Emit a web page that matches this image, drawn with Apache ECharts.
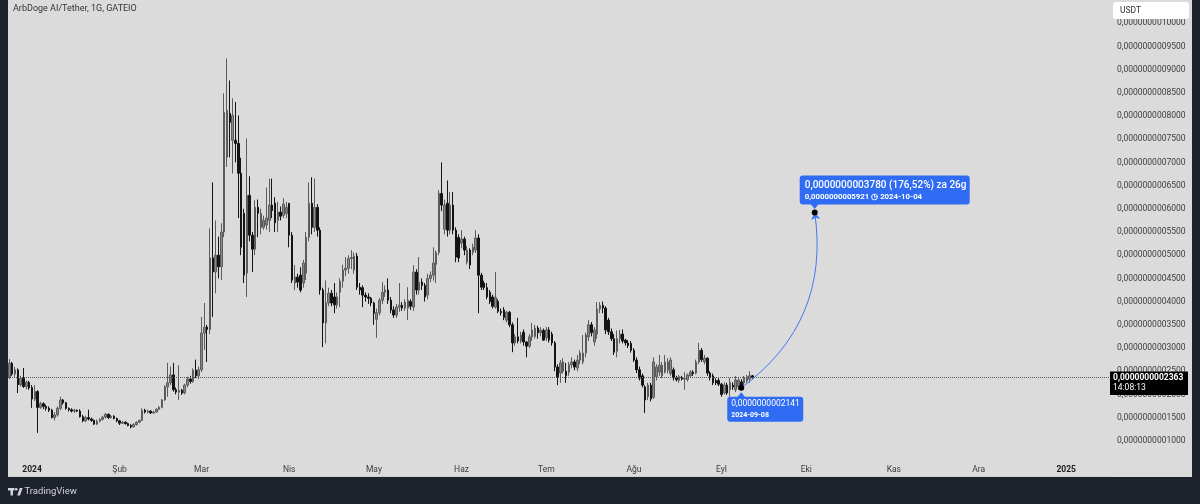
<!DOCTYPE html>
<html>
<head>
<meta charset="utf-8">
<script src="https://cdn.jsdelivr.net/npm/echarts/dist/echarts.min.js"></script>
<style>
html,body{margin:0;padding:0;background:#1e222d;}
#chart{width:1200px;height:504px;}
</style>
</head>
<body>
<div id="chart"></div>
<script>
// ---- axis / calendar ----
const startDate = '2023-12-24';
const dayCount = 390;
const monthNames = ['Oca','Şub','Mar','Nis','May','Haz','Tem','Ağu','Eyl','Eki','Kas','Ara'];
const yTickMin = 500, yTickMax = 10500, yTickStep = 500;   // price units of 1e-13 USDT

// ---- daily candles [open, close, low, high] in units of 1e-13 USDT ----
const ohlcDec2023 = [
[2380,2670,2330,2760],[2670,2440,2400,2700],[2440,2530,2380,2590],[2530,2210,2030,2560],
[2210,2350,2170,2400],[2350,2170,2140,2570],[2170,2260,2110,2300],[2260,2140,2100,2290]];
const ohlcJan = [
[2150,1900,1710,2200],[1900,2060,1860,2200],[2060,1720,1170,2090],[1720,1800,1690,1840],
[1800,1740,1680,1830],[1740,1700,1650,1780],[1700,1660,1620,1740],[1660,1500,1480,1690],
[1500,1560,1440,1620],[1560,1700,1520,1740],[1700,1880,1660,1950],[1880,1820,1780,1900],
[1820,1700,1670,1840],[1700,1670,1630,1720],[1670,1640,1610,1700],[1640,1660,1600,1690],
[1660,1640,1620,1670],[1640,1520,1500,1680],[1520,1430,1400,1560],[1430,1500,1400,1540],
[1500,1470,1440,1670],[1470,1440,1410,1500],[1440,1360,1340,1460],[1360,1420,1340,1460],
[1420,1460,1400,1490],[1460,1510,1440,1540],[1510,1570,1480,1600],[1570,1500,1470,1590],
[1500,1530,1480,1560],[1530,1480,1460,1550],[1480,1430,1400,1500]];
const ohlcFeb = [
[1430,1380,1340,1450],[1380,1400,1360,1430],[1400,1370,1350,1420],[1370,1330,1310,1390],
[1330,1300,1270,1360],[1300,1350,1290,1380],[1350,1400,1330,1420],[1400,1440,1380,1460],
[1440,1660,1430,1700],[1660,1620,1590,1690],[1620,1640,1590,1670],[1640,1600,1580,1660],
[1600,1620,1580,1650],[1620,1680,1600,1700],[1680,1720,1660,1750],[1720,1880,1700,1900],
[1880,2160,1860,2200],[2160,2250,1950,2680],[2250,2420,2200,2600],[2420,2100,2060,2680],
[2100,2050,2000,2150],[2050,2090,1880,2630],[2090,2030,1990,2120],[2030,2200,2000,2230],
[2200,2330,2150,2380],[2330,2280,2230,2400],[2280,2520,2250,2560],[2520,2400,2350,2750],
[2400,2530,2330,2600]];
const ohlcMar = [
[2530,3320,2480,3670],[3320,3450,2960,3970],[3450,3400,2700,3500],[3400,4940,3300,5580],
[4940,4640,3670,6570],[4640,5000,4180,5750],[5000,4750,4500,5400],[4750,5500,4460,5690],
[5500,8077,5390,8490],[7110,8120,6900,9240],[8055,7862,7110,8765],[7475,8012,6760,8380],
[7475,7410,7000,8300],[7410,6765,5800,8012],[6765,5173,5000,7100],[5900,4571,4400,6000],
[4614,6291,4100,7517],[6291,5431,5300,6700],[5431,5130,4640,5500],[5130,6033,5000,6184],
[6033,5904,5388,6200],[5600,5900,5450,6000],[5600,5750,5550,5850],[5650,5800,5550,6460],
[5750,6080,5500,6650],[6080,5960,5800,6650],[6120,5700,5500,6250],[5750,5930,5500,6150],
[5930,5840,5750,6050],[5860,6100,5800,6230],[5900,6030,5800,6150]];
const ohlcApr = [
[6120,5430,5170,6120],[5430,4463,4400,5500],[4399,4528,4250,4790],[4528,4420,4300,4600],
[4571,4248,4200,4740],[4399,4830,4300,4900],[4614,5388,4463,5500],[5388,6120,5300,6570],
[6120,5600,5450,6680],[5600,6030,5500,6650],[6030,5540,5400,6100],[5540,4250,4150,5600],
[4250,3540,3020,4300],[3540,3970,3100,4460],[3970,4180,3900,4300],[4180,3970,3900,4250],
[4100,3930,3750,4400],[3930,4100,3850,4200],[4200,4440,3880,4500],[4440,4680,4300,4800],
[4680,4720,4550,4960],[4720,4930,4600,5000],[4930,4950,4700,5110],[4680,4980,4600,5060],
[4980,4310,4250,5050],[4310,4250,4150,4400],[4300,4140,3880,4350],[4140,4100,4000,4200],
[4100,4070,3950,4180],[4070,3970,3900,4100]];
const ohlcMay = [
[3970,3750,3500,4000],[3620,3760,3220,3850],[3760,4030,3700,4080],[4030,4200,3950,4420],
[4200,4250,4100,4350],[4250,4030,3950,4500],[4030,3820,3750,4100],[3820,3710,3650,3900],
[3710,3880,3650,3950],[3880,3920,3780,4400],[3920,3860,3800,3990],[3860,3990,3800,4050],
[3860,4030,3600,4310],[4000,3900,3820,4050],[3882,4635,3800,4786],[4635,4250,4150,4700],
[4250,4420,4150,4960],[4420,4350,4250,4500],[4350,4100,4000,4400],[4140,4500,4050,4600],
[4500,4570,4420,4650],[4570,4830,4450,5170],[4800,5060,4400,5100],[5060,6330,5000,6400],
[6330,6080,5950,7000],[5560,6080,5450,6200],[6120,5540,5400,6610],[5540,6080,5450,6360],
[6080,5540,5450,6360],[5540,4960,4850,5600],[5380,4940,4850,5450]];
const ohlcJun = [
[5260,5350,5150,5540],[5350,5110,5000,5400],[4850,5110,4800,5200],[5110,4790,4700,5150],
[5060,5170,5000,5250],[5110,5370,5050,5540],[5370,4570,3750,5450],[4570,4310,4250,4620],
[4400,4300,4250,4450],[4300,4100,4050,4400],[4200,4000,3950,4250],[4100,3900,3850,4150],
[3880,4090,3850,4640],[4000,3790,3750,4050],[3790,3760,3700,3850],[3820,3660,3600,3880],
[3600,3770,3550,3800],[3770,3500,3450,3800],[3500,3110,2910,3550],[3110,3240,3050,3300],
[3240,3150,3100,3650],[3150,3280,3100,3350],[3340,3130,3050,3400],[3130,3040,2800,3150],
[3040,3240,3000,3300],[3240,3390,3150,3540],[3250,3430,3200,3500],[3430,3330,3200,3480],
[3330,3380,3250,3450],[3380,3170,3150,3420]];
const ohlcJul = [
[3220,3390,3150,3450],[3390,3170,3120,3450],[3300,3110,3050,3350],[3110,2590,2500,3150],
[2590,2380,2200,2650],[2460,2680,2250,2740],[2500,2700,2450,2780],[2500,2400,2250,2680],
[2480,2640,2400,2700],[2640,2700,2560,2800],[2700,2590,2520,2750],[2570,2740,2500,2850],
[2740,2890,2650,2950],[2700,2890,2650,3280],[2890,3280,2800,3330],[3240,3500,3150,3600],
[3500,3330,3250,3560],[3130,3390,3050,3450],[3300,3840,3200,3990],[3840,3920,3750,3990],
[3920,3860,3750,4000],[3860,3390,3300,3900],[3600,3350,3280,3650],[3350,3200,3150,3420],
[3200,2910,2850,3300],[2930,3200,2800,3380],[3200,3300,3100,3390],[3300,3150,3100,3400],
[3170,3110,3050,3200],[3110,3050,3000,3170],[3100,2950,2900,3150]];
const ohlcAug = [
[2950,2740,2700,3000],[2740,2530,2460,2800],[2530,2350,2300,2600],[2400,2200,2150,2450],
[2160,1880,1600,2200],[1950,2200,1880,2250],[2200,1900,1850,2250],[1940,2700,1900,2800],
[2380,2590,2300,2650],[2480,2630,2400,2850],[2400,2630,2350,2700],[2480,2700,2450,2850],
[2520,2700,2450,2780],[2450,2740,2400,2800],[2530,2360,2300,2580],[2360,2320,2280,2400],
[2300,2380,2250,2420],[2360,2330,2300,2400],[2330,2350,2100,2480],[2320,2420,2280,2450],
[2400,2480,2380,2520],[2480,2450,2400,2520],[2460,2700,2430,2750],[2700,2950,2650,3110],
[2950,2750,2700,3000],[2700,2780,2650,2850],[2780,2460,2400,2800],[2460,2360,2300,2500],
[2400,2250,2200,2450],[2300,2250,2200,2350],[2300,2220,2180,2350]];
const ohlcSep = [
[2220,2000,1950,2250],[2030,2200,2000,2260],[2200,2030,1990,2250],[2100,2250,1950,2350],
[2200,2160,2100,2260],[2100,2310,2050,2400],[2160,2310,2100,2380],[2270,2200,2141,2330],
[2250,2350,2200,2400],[2290,2380,2250,2420],[2330,2400,2250,2500],[2400,2363,2330,2420]];

// ---- last price / projection annotation ----
const lastPrice = 2363;
const lastTime = '14:08:13';
const projFrom = {date: '2024-09-08', price: 2141};
const projTo = {date: '2024-10-04', price: 5921};
const projPct = '176,52%';
const projDays = '26g';
const titleText = 'ArbDoge AI/Tether, 1G, GATEIO';

// ---- build ----
const categories = [];
{
  const t0 = Date.parse(startDate + 'T00:00:00Z');
  for (let i = 0; i < dayCount; i++) categories.push(new Date(t0 + i * 86400000).toISOString().slice(0, 10));
}
const candles = [].concat(ohlcDec2023, ohlcJan, ohlcFeb, ohlcMar, ohlcApr, ohlcMay, ohlcJun, ohlcJul, ohlcAug, ohlcSep);
const fmt = v => '0,' + String(Math.round(v)).padStart(13, '0');
const iFrom = categories.indexOf(projFrom.date);
const iTo = categories.indexOf(projTo.date);
const blue = '#2f6cf3';
const FONT = 'Roboto';

const chart = echarts.init(document.getElementById('chart'), null, {renderer: 'canvas'});
const option = {
  backgroundColor: '#1e222d',
  animation: false,
  textStyle: {fontFamily: FONT},
  grid: {left: 8, right: 90, top: 0, bottom: 40},
  xAxis: {
    type: 'category', data: categories, boundaryGap: true,
    axisLine: {show: false}, axisTick: {show: false}, splitLine: {show: false},
    axisLabel: {
      interval: (i, v) => v.slice(8) === '01',
      formatter: v => { const m = +v.slice(5, 7); return m === 1 ? '{y|' + v.slice(0, 4) + '}' : monthNames[m - 1]; },
      color: '#3c3c3c', fontSize: 8.5, margin: 1, fontFamily: FONT,
      rich: {y: {fontWeight: 'bold', color: '#1a1a1a', fontSize: 8.5, fontFamily: FONT}}
    }
  },
  yAxis: {
    type: 'value', position: 'right', min: yTickMin, max: yTickMax, interval: yTickStep, scale: false,
    axisLine: {show: false}, axisTick: {show: false}, splitLine: {show: false},
    axisLabel: {showMinLabel: false, showMaxLabel: false, formatter: fmt, color: '#3c3c3c', fontSize: 8.5, margin: 7, fontFamily: FONT}
  },
  series: [
    {
      type: 'candlestick', data: candles, barWidth: 2,
      itemStyle: {color: '#878787', color0: '#141414', borderColor: '#5c5c5c', borderColor0: '#141414', borderWidth: 1},
      markLine: {
        silent: true, symbol: 'none', label: {show: false},
        lineStyle: {type: 'dotted', color: '#555', width: 1},
        data: [{yAxis: lastPrice}]
      }
    },
    {
      type: 'lines', coordinateSystem: 'cartesian2d', z: 5, silent: true,
      symbol: ['none', 'arrow'], symbolSize: 7,
      lineStyle: {color: '#3f78f3', width: 1, curveness: -0.3, opacity: 1},
      data: [{coords: [[iFrom, projFrom.price], [iTo, projTo.price]]}]
    },
    {
      type: 'scatter', z: 6, silent: true, symbol: 'triangle', symbolSize: [8, 5], itemStyle: {color: blue, opacity: 1},
      data: [
        {value: [iTo, projTo.price], symbolRotate: 180, symbolOffset: [0, -6]},
        {value: [iFrom, projFrom.price], symbolOffset: [0, 7]}
      ]
    },
    {
      type: 'scatter', z: 7, silent: true, symbolSize: 6, itemStyle: {color: '#000', opacity: 1},
      data: [
        {
          value: [iTo, projTo.price],
          label: {
            show: true, position: [-12, -34], backgroundColor: blue, borderRadius: 3, padding: [4, 5, 2, 5], width: 160,
            formatter: '{a|' + fmt(projTo.price - projFrom.price) + ' (' + projPct + ') za ' + projDays + '}\n{b|' + fmt(projTo.price) + ' ◷ ' + projTo.date + '}',
            rich: {
              a: {color: '#fff', fontSize: 10, lineHeight: 12, fontFamily: FONT, fontWeight: 500},
              b: {color: '#fff', fontSize: 7.8, lineHeight: 11, fontFamily: FONT, fontWeight: 'bold'}
            }
          }
        },
        {
          value: [iFrom, projFrom.price],
          label: {
            show: true, position: [-11, 12], backgroundColor: blue, borderRadius: 3, padding: [2, 4, 2, 4], width: 68,
            formatter: '{a|' + fmt(projFrom.price) + '}\n{b|' + projFrom.date + '}',
            rich: {
              a: {color: '#fff', fontSize: 8.5, lineHeight: 11, fontFamily: FONT},
              b: {color: '#fff', fontSize: 7, lineHeight: 10, fontFamily: FONT, fontWeight: 'bold'}
            }
          }
        }
      ]
    }
  ]
};
chart.setOption(option);

// panel, title, price tag, footer (placed through the chart's own scale)
const yLast = chart.convertToPixel({yAxisIndex: 0}, lastPrice);
chart.setOption({
  graphic: [
    {type: 'rect', z: -10, silent: true, shape: {x: 8, y: 0, width: 1184, height: 477}, style: {fill: '#dcdbdb'}},
    {type: 'rect', z: -9, silent: true, shape: {x: 8, y: 476, width: 1102, height: 1}, style: {fill: '#cfcfcf'}},
    {type: 'text', z: 20, silent: true, x: 13, y: 9, style: {text: titleText, fill: '#333', font: '9px ' + FONT, textVerticalAlign: 'middle'}},
    {type: 'rect', z: 20, silent: true, shape: {x: 1113, y: 2, width: 76, height: 17, r: 3}, style: {fill: '#fff'}},
    {type: 'text', z: 21, silent: true, x: 1120, y: 10.5, style: {text: 'USDT', fill: '#333', font: '8.5px ' + FONT, textVerticalAlign: 'middle'}},
    {type: 'rect', z: 20, silent: true, shape: {x: 1110, y: yLast - 6, width: 78, height: 23.5}, style: {fill: '#000'}},
    {type: 'text', z: 21, silent: true, x: 1113, y: yLast, style: {text: fmt(lastPrice), fill: '#fff', font: 'bold 8.5px ' + FONT, textVerticalAlign: 'middle'}},
    {type: 'text', z: 21, silent: true, x: 1113, y: yLast + 10.5, style: {text: lastTime, fill: '#fff', font: '8.5px ' + FONT, textVerticalAlign: 'middle'}},
    {type: 'rect', z: 20, silent: true, shape: {x: 8, y: 488, width: 6.5, height: 2.5}, style: {fill: '#d1d4dc'}},
    {type: 'rect', z: 20, silent: true, shape: {x: 10.5, y: 488, width: 2.5, height: 7.5}, style: {fill: '#d1d4dc'}},
    {type: 'circle', z: 20, silent: true, shape: {cx: 16.2, cy: 489.3, r: 1.3}, style: {fill: '#d1d4dc'}},
    {type: 'polygon', z: 20, silent: true, shape: {points: [[17.2, 495.5], [19.8, 488], [22.6, 488], [20, 495.5]]}, style: {fill: '#d1d4dc'}},
    {type: 'text', z: 20, silent: true, x: 24.5, y: 492, style: {text: 'TradingView', fill: '#d1d4dc', font: '9.5px ' + FONT, textVerticalAlign: 'middle'}}
  ]
});
</script>
</body>
</html>
